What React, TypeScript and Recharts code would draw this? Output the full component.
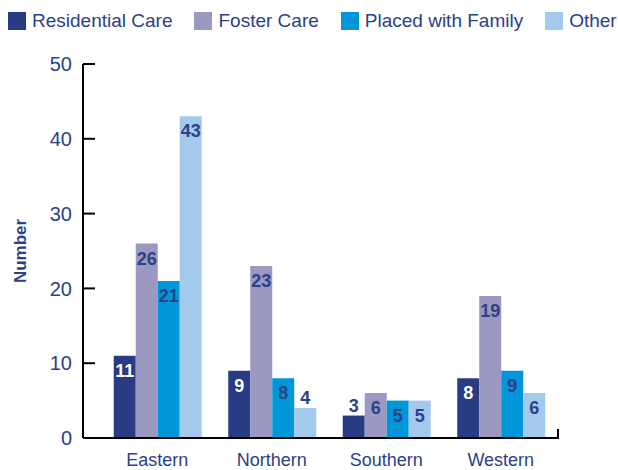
import { Bar, BarChart, XAxis, YAxis, Legend, LabelList } from "recharts"

const regions = ["Eastern", "Northern", "Southern", "Western"]
const residentialCare = [11, 9, 3, 8]
const fosterCare = [26, 23, 6, 19]
const placedWithFamily = [21, 8, 5, 9]
const other = [43, 4, 5, 6]
const yTicks = [0, 10, 20, 30, 40, 50]

const data = regions.map((name, i) => ({
  name,
  residential: residentialCare[i],
  foster: fosterCare[i],
  placed: placedWithFamily[i],
  other: other[i],
}))

const navy = "#2c4186"
const font = "Liberation Sans, Arial, sans-serif"

const series = [
  { key: "residential", label: "Residential Care", color: "#283b83", text: "#ffffff" },
  { key: "foster", label: "Foster Care", color: "#9b98c1", text: navy },
  { key: "placed", label: "Placed with Family", color: "#0096d8", text: navy },
  { key: "other", label: "Other", color: "#a3c9ec", text: navy },
]

const makeLabel = (insideColor: string) => (props: any) => {
  const { x, y, width, height, value } = props
  const cx = Number(x) + Number(width) / 2
  const small = Number(height) < 33
  return (
    <text
      x={cx}
      y={small ? Number(y) - 10 : Number(y) + 15}
      textAnchor="middle"
      dominantBaseline="central"
      fontSize={18}
      fontWeight="bold"
      fill={small ? navy : insideColor}
      fontFamily={font}
    >
      {value}
    </text>
  )
}

function LegendContent() {
  return (
    <div style={{ display: "flex", alignItems: "center", height: 42, paddingLeft: 8, whiteSpace: "nowrap" }}>
      {series.map((s) => (
        <div key={s.key} style={{ display: "flex", alignItems: "center", marginRight: 22 }}>
          <div style={{ width: 18, height: 18, background: s.color, marginRight: 6 }} />
          <span style={{ fontSize: 19, color: navy, fontFamily: font }}>{s.label}</span>
        </div>
      ))}
    </div>
  )
}

function YLabel() {
  const cy = 251
  return (
    <text
      x={20}
      y={cy}
      transform={`rotate(-90, 20, ${cy})`}
      textAnchor="middle"
      dominantBaseline="central"
      fontSize={17}
      fontWeight="bold"
      fill={navy}
      fontFamily={font}
    >
      Number
    </text>
  )
}

function XTick(props: any) {
  const { x, y, payload, index } = props
  const half = payload && payload.offset ? payload.offset : 57
  const axisY = Number(y) - 15
  return (
    <g>
      <text x={x} y={y} dy="0.71em" textAnchor="middle" fontSize={18} fill={navy} fontFamily={font}>
        {payload.value}
      </text>
      {index === regions.length - 1 && (
        <line x1={x + half} x2={x + half} y1={axisY + 1} y2={axisY - 9} stroke="#000" strokeWidth={2} />
      )}
    </g>
  )
}

export default function App() {
  return (
    <div style={{ position: "absolute", left: 0, top: 0, fontFamily: font }}>
      <BarChart
        width={618}
        height={470}
        data={data}
        margin={{ top: 22, right: 60, bottom: 2, left: 0 }}
        barCategoryGap="12%"
        barGap={0}
      >
        <Legend verticalAlign="top" align="left" content={<LegendContent />} wrapperStyle={{ top: 0, left: 0 }} />
        <XAxis
          dataKey="name"
          height={30}
          padding={{ left: 17, right: 0 }}
          axisLine={{ stroke: "#000", strokeWidth: 2 }}
          tickLine={false}
          tickMargin={9}
          tick={<XTick />}
          interval={0}
        />
        <YAxis
          width={83}
          domain={[0, 50]}
          ticks={yTicks}
          interval={0}
          axisLine={{ stroke: "#000", strokeWidth: 2 }}
          tickLine={{ stroke: "#000", strokeWidth: 2 }}
          tickSize={-12}
          tickMargin={23}
          tick={{ fontSize: 20, fill: navy }}
          label={<YLabel />}
        />
        {series.map((s) => (
          <Bar key={s.key} dataKey={s.key} name={s.label} fill={s.color} isAnimationActive={false}>
            <LabelList dataKey={s.key} content={makeLabel(s.text)} />
          </Bar>
        ))}
      </BarChart>
    </div>
  )
}
